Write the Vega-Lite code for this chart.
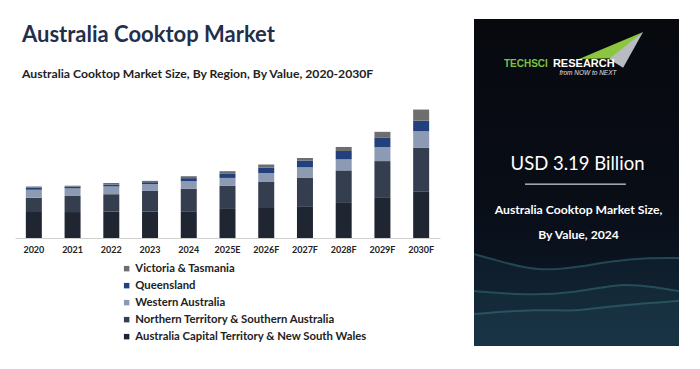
{
  "$schema": "https://vega.github.io/schema/vega-lite/v6.json",
  "background": "white",
  "padding": {"left": 15, "top": 18, "right": 0, "bottom": 0},
  "spacing": 30,
  "config": {"font": "Lato", "view": {"stroke": null}},
  "datasets": {
    "market": [
      {"year": "2020", "region": "Australia Capital Territory & New South Wales", "k": 1, "value": 1.34},
      {"year": "2020", "region": "Northern Territory & Southern Australia", "k": 2, "value": 0.74},
      {"year": "2020", "region": "Western Australia", "k": 3, "value": 0.41},
      {"year": "2020", "region": "Queensland", "k": 4, "value": 0.10},
      {"year": "2020", "region": "Victoria & Tasmania", "k": 5, "value": 0.07},
      {"year": "2021", "region": "Australia Capital Territory & New South Wales", "k": 1, "value": 1.34},
      {"year": "2021", "region": "Northern Territory & Southern Australia", "k": 2, "value": 0.83},
      {"year": "2021", "region": "Western Australia", "k": 3, "value": 0.39},
      {"year": "2021", "region": "Queensland", "k": 4, "value": 0.09},
      {"year": "2021", "region": "Victoria & Tasmania", "k": 5, "value": 0.05},
      {"year": "2022", "region": "Australia Capital Territory & New South Wales", "k": 1, "value": 1.36},
      {"year": "2022", "region": "Northern Territory & Southern Australia", "k": 2, "value": 0.90},
      {"year": "2022", "region": "Western Australia", "k": 3, "value": 0.40},
      {"year": "2022", "region": "Queensland", "k": 4, "value": 0.10},
      {"year": "2022", "region": "Victoria & Tasmania", "k": 5, "value": 0.08},
      {"year": "2023", "region": "Australia Capital Territory & New South Wales", "k": 1, "value": 1.36},
      {"year": "2023", "region": "Northern Territory & Southern Australia", "k": 2, "value": 1.07},
      {"year": "2023", "region": "Western Australia", "k": 3, "value": 0.35},
      {"year": "2023", "region": "Queensland", "k": 4, "value": 0.10},
      {"year": "2023", "region": "Victoria & Tasmania", "k": 5, "value": 0.07},
      {"year": "2024", "region": "Australia Capital Territory & New South Wales", "k": 1, "value": 1.38},
      {"year": "2024", "region": "Northern Territory & Southern Australia", "k": 2, "value": 1.17},
      {"year": "2024", "region": "Western Australia", "k": 3, "value": 0.38},
      {"year": "2024", "region": "Queensland", "k": 4, "value": 0.16},
      {"year": "2024", "region": "Victoria & Tasmania", "k": 5, "value": 0.10},
      {"year": "2025E", "region": "Australia Capital Territory & New South Wales", "k": 1, "value": 1.50},
      {"year": "2025E", "region": "Northern Territory & Southern Australia", "k": 2, "value": 1.19},
      {"year": "2025E", "region": "Western Australia", "k": 3, "value": 0.41},
      {"year": "2025E", "region": "Queensland", "k": 4, "value": 0.21},
      {"year": "2025E", "region": "Victoria & Tasmania", "k": 5, "value": 0.14},
      {"year": "2026F", "region": "Australia Capital Territory & New South Wales", "k": 1, "value": 1.55},
      {"year": "2026F", "region": "Northern Territory & Southern Australia", "k": 2, "value": 1.34},
      {"year": "2026F", "region": "Western Australia", "k": 3, "value": 0.47},
      {"year": "2026F", "region": "Queensland", "k": 4, "value": 0.26},
      {"year": "2026F", "region": "Victoria & Tasmania", "k": 5, "value": 0.18},
      {"year": "2027F", "region": "Australia Capital Territory & New South Wales", "k": 1, "value": 1.64},
      {"year": "2027F", "region": "Northern Territory & Southern Australia", "k": 2, "value": 1.46},
      {"year": "2027F", "region": "Western Australia", "k": 3, "value": 0.55},
      {"year": "2027F", "region": "Queensland", "k": 4, "value": 0.35},
      {"year": "2027F", "region": "Victoria & Tasmania", "k": 5, "value": 0.13},
      {"year": "2028F", "region": "Australia Capital Territory & New South Wales", "k": 1, "value": 1.81},
      {"year": "2028F", "region": "Northern Territory & Southern Australia", "k": 2, "value": 1.68},
      {"year": "2028F", "region": "Western Australia", "k": 3, "value": 0.57},
      {"year": "2028F", "region": "Queensland", "k": 4, "value": 0.43},
      {"year": "2028F", "region": "Victoria & Tasmania", "k": 5, "value": 0.21},
      {"year": "2029F", "region": "Australia Capital Territory & New South Wales", "k": 1, "value": 2.07},
      {"year": "2029F", "region": "Northern Territory & Southern Australia", "k": 2, "value": 1.90},
      {"year": "2029F", "region": "Western Australia", "k": 3, "value": 0.72},
      {"year": "2029F", "region": "Queensland", "k": 4, "value": 0.48},
      {"year": "2029F", "region": "Victoria & Tasmania", "k": 5, "value": 0.31},
      {"year": "2030F", "region": "Australia Capital Territory & New South Wales", "k": 1, "value": 2.41},
      {"year": "2030F", "region": "Northern Territory & Southern Australia", "k": 2, "value": 2.24},
      {"year": "2030F", "region": "Western Australia", "k": 3, "value": 0.86},
      {"year": "2030F", "region": "Queensland", "k": 4, "value": 0.55},
      {"year": "2030F", "region": "Victoria & Tasmania", "k": 5, "value": 0.57}
    ],
    "waves": [
      {"wave": "a", "px": 0, "py": 71.9}, {"wave": "a", "px": 15, "py": 74.5}, {"wave": "a", "px": 31, "py": 77.1}, {"wave": "a", "px": 50, "py": 76.0}, {"wave": "a", "px": 67, "py": 74.0}, {"wave": "a", "px": 85, "py": 73.0}, {"wave": "a", "px": 100, "py": 73.1},
      {"wave": "b", "px": 0, "py": 83.2}, {"wave": "b", "px": 25, "py": 84.5}, {"wave": "b", "px": 49, "py": 83.8}, {"wave": "b", "px": 72, "py": 80.7}, {"wave": "b", "px": 88, "py": 82.0}, {"wave": "b", "px": 100, "py": 83.2},
      {"wave": "c", "px": 0, "py": 90.2}, {"wave": "c", "px": 31, "py": 88.7}, {"wave": "c", "px": 50, "py": 89.5}, {"wave": "c", "px": 65, "py": 87.8}, {"wave": "c", "px": 100, "py": 86.2}
    ]
  },
  "hconcat": [
    {
      "width": 425,
      "height": 142,
      "title": {
        "text": "Australia Cooktop Market",
        "subtitle": "Australia Cooktop Market Size, By Region, By Value, 2020-2030F",
        "anchor": "start",
        "frame": "group",
        "dx": 7,
        "fontSize": 22,
        "fontWeight": "bold",
        "color": "#1f2f4d",
        "subtitleFont": "Lato",
        "subtitleFontSize": 12.2,
        "subtitleFontWeight": "bold",
        "subtitleColor": "#222222",
        "subtitlePadding": 21,
        "offset": 15
      },
      "data": {"name": "market"},
      "mark": {"type": "bar"},
      "encoding": {
        "x": {
          "field": "year",
          "type": "ordinal",
          "sort": null,
          "scale": {"paddingInner": 0.587, "paddingOuter": 0.28},
          "axis": {
            "title": null,
            "labelAngle": 0,
            "ticks": false,
            "grid": false,
            "labelFont": "Lato",
            "labelFontWeight": "bold",
            "labelFontSize": 9,
            "labelColor": "#222222",
            "labelPadding": 7,
            "domainColor": "#d0d0d0"
          }
        },
        "y": {
          "field": "value",
          "type": "quantitative",
          "stack": "zero",
          "scale": {"domain": [0, 7.33], "nice": false},
          "axis": null
        },
        "color": {
          "field": "region",
          "type": "nominal",
          "scale": {
            "domain": ["Victoria & Tasmania", "Queensland", "Western Australia", "Northern Territory & Southern Australia", "Australia Capital Territory & New South Wales"],
            "range": ["#6e6e6e", "#22417c", "#8c9bb3", "#343e4e", "#1f2531"]
          },
          "legend": {
            "title": null,
            "orient": "none",
            "legendX": 106,
            "legendY": 167,
            "symbolType": "square",
            "symbolSize": 30,
            "symbolStrokeWidth": 0,
            "labelFont": "Lato",
            "labelFontSize": 11.3,
            "labelFontWeight": "bold",
            "labelColor": "#222222",
            "labelOffset": 3,
            "labelLimit": 400,
            "rowPadding": 5
          }
        },
        "order": {"field": "k", "type": "quantitative", "sort": "ascending"}
      }
    },
    {
      "width": 205,
      "height": 250,
      "data": {"values": [{}]},
      "layer": [
        {
          "mark": {
            "type": "rect",
            "color": {
              "gradient": "linear", "x1": 0, "y1": 0, "x2": 0, "y2": 1,
              "stops": [
                {"offset": 0, "color": "#07090f"},
                {"offset": 0.55, "color": "#090d16"},
                {"offset": 1, "color": "#0d1c2e"}
              ]
            }
          },
          "encoding": {
            "x": {"datum": 0, "type": "quantitative", "scale": {"domain": [0, 100], "nice": false}, "axis": null},
            "x2": {"datum": 100},
            "y": {"datum": 0, "type": "quantitative", "scale": {"domain": [23.55, 100], "reverse": true, "zero": false, "nice": false}, "axis": null},
            "y2": {"datum": 100}
          }
        },
        {
          "data": {"name": "waves"},
          "mark": {"type": "area", "interpolate": "basis", "color": "#2f6f78", "opacity": 0.12},
          "encoding": {
            "x": {"field": "px", "type": "quantitative"},
            "y": {"field": "py", "type": "quantitative"},
            "y2": {"datum": 100},
            "detail": {"field": "wave"}
          }
        },
        {
          "data": {"name": "waves"},
          "mark": {"type": "line", "interpolate": "basis", "color": "#3d8088", "opacity": 0.45, "strokeWidth": 2},
          "encoding": {
            "x": {"field": "px", "type": "quantitative"},
            "y": {"field": "py", "type": "quantitative"},
            "detail": {"field": "wave"}
          }
        },
        {
          "mark": {"type": "point", "filled": true, "opacity": 1, "size": 4900, "color": "#8cc63f",
                   "shape": "M -0.86 0.2 L 0.97 -0.57 L 0.12 0.18 Z"},
          "encoding": {"x": {"datum": 65.9}, "y": {"datum": 10.1}}
        },
        {
          "mark": {"type": "point", "filled": true, "opacity": 1, "size": 4900, "color": "#b8bcc2",
                   "shape": "M 0.0 0.2 L 0.97 -0.57 L 0.4 0.45 Z"},
          "encoding": {"x": {"datum": 65.9}, "y": {"datum": 10.1}}
        },
        {
          "mark": {"type": "text", "text": "TECHSCI", "font": "Liberation Sans", "fontSize": 10, "fontWeight": "bold", "color": "#7cc242", "align": "left", "baseline": "middle"},
          "encoding": {"x": {"datum": 14.6}, "y": {"datum": 13.8}}
        },
        {
          "mark": {"type": "text", "text": "RESEARCH", "font": "Liberation Sans", "fontSize": 11, "fontWeight": "bold", "color": "#ffffff", "align": "left", "baseline": "middle"},
          "encoding": {"x": {"datum": 38.5}, "y": {"datum": 13.8}}
        },
        {
          "mark": {"type": "text", "text": "from NOW to NEXT", "font": "Liberation Sans", "fontSize": 6.5, "fontStyle": "italic", "color": "#e0e0e0", "align": "center", "baseline": "middle"},
          "encoding": {"x": {"datum": 55.6}, "y": {"datum": 16.4}}
        },
        {
          "mark": {"type": "text", "text": "USD 3.19 Billion", "font": "Lato", "fontSize": 18.5, "color": "#ffffff", "align": "center", "baseline": "middle"},
          "encoding": {"x": {"datum": 50.5}, "y": {"datum": 44.3}}
        },
        {
          "mark": {"type": "rule", "color": "#ffffff", "strokeWidth": 1},
          "encoding": {"x": {"datum": 24.9}, "x2": {"datum": 74.1}, "y": {"datum": 50.5}}
        },
        {
          "mark": {"type": "text", "text": "Australia Cooktop Market Size,", "font": "Lato", "fontSize": 12.2, "fontWeight": "bold", "color": "#ffffff", "align": "center", "baseline": "middle"},
          "encoding": {"x": {"datum": 51}, "y": {"datum": 58.4}}
        },
        {
          "mark": {"type": "text", "text": "By Value, 2024", "font": "Lato", "fontSize": 12.2, "fontWeight": "bold", "color": "#ffffff", "align": "center", "baseline": "middle"},
          "encoding": {"x": {"datum": 51}, "y": {"datum": 66.1}}
        }
      ]
    }
  ]
}
